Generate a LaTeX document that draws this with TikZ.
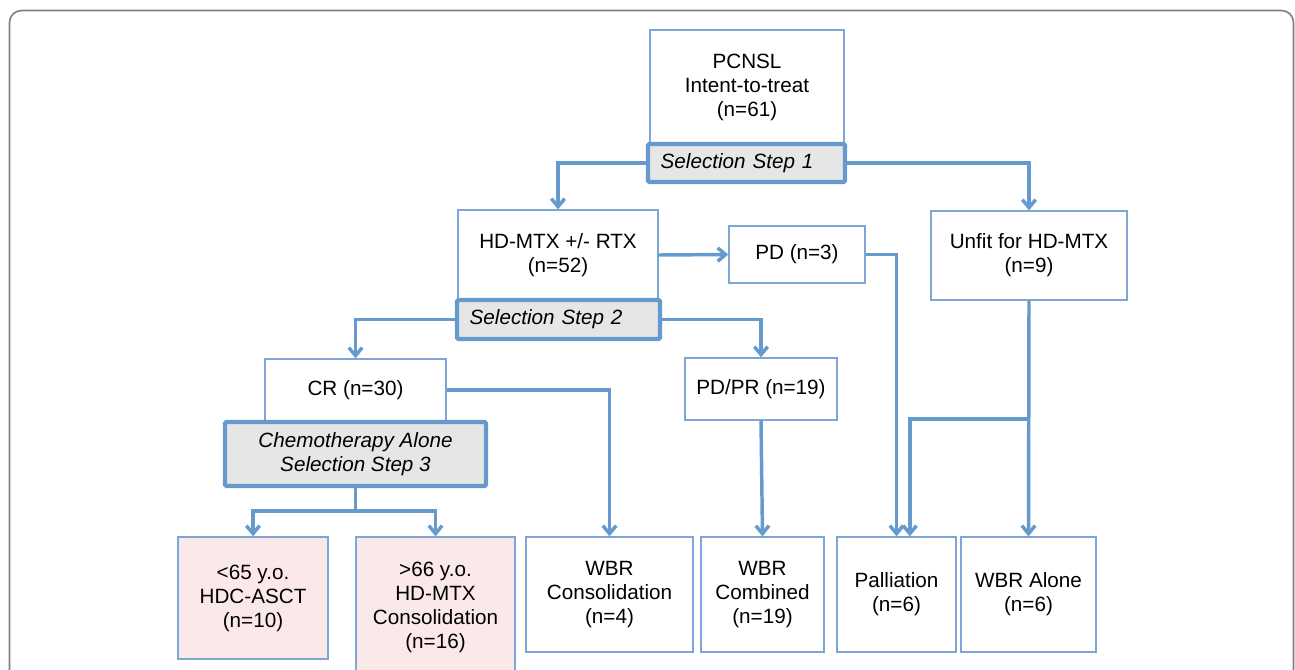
\documentclass[tikz,border=0pt]{standalone}
\usepackage{fontspec}
\setmainfont{Liberation Sans}
\usetikzlibrary{arrows.meta}
\definecolor{flowblue}{RGB}{102,153,204}
\definecolor{boxline}{RGB}{125,166,214}
\definecolor{stepgray}{RGB}{230,230,230}
\definecolor{agepink}{RGB}{251,233,233}
\definecolor{framegray}{RGB}{128,128,128}

\begin{document}
\begin{tikzpicture}[x=0.75pt,y=0.75pt,yscale=-1,xscale=1,
  box/.style={draw=boxline,line width=1pt,fill=white,align=center,inner sep=0pt,font=\fontsize{15.5}{18}\selectfont},
  selbox/.style={box,draw=flowblue,line width=3.2pt,fill=stepgray,rounded corners=1pt,font=\fontsize{15.5}{18}\selectfont\itshape},
  agebox/.style={box,fill=agepink},
  conn/.style={draw=flowblue,line width=2.6pt,-{Straight Barb[length=6pt,width=10pt]}},
  link/.style={draw=flowblue,line width=2.6pt},
]
\useasboundingbox (0,0) rectangle (1295,669);
\clip (0,0) rectangle (1295,669);

%Frame
\draw [framegray,line width=1.2pt,rounded corners=9pt] (9.5,690) -- (9.5,10.5) -- (1293.5,10.5) -- (1293.5,690) ;

%Top level
\node [box,minimum width=145.5pt,minimum height=85.5pt] (itt) at (747,87) {PCNSL\\Intent-to-treat\\(n=61)};
\node [selbox,minimum width=147.75pt,minimum height=28.5pt,text width=128.75pt,align=left,inner xsep=9.5pt] (sel1) at (746.5,163) {Selection Step 1};

%Second level
\node [box,minimum width=150pt,minimum height=67.5pt] (hd) at (558,255) {HD-MTX +/- RTX\\(n=52)};
\node [selbox,minimum width=152.25pt,minimum height=29.25pt,text width=133.25pt,align=left,inner xsep=9.5pt] (sel2) at (558.5,319.5) {Selection Step 2};
\node [box,minimum width=102pt,minimum height=42.75pt] (pd) at (797,254.5) {PD (n=3)};
\node [box,minimum width=147pt,minimum height=66.75pt] (unfit) at (1029,255.5) {Unfit for HD-MTX\\(n=9)};

%Third level
\node [box,minimum width=135.75pt,minimum height=46.5pt] (cr) at (355.5,390) {CR (n=30)};
\node [selbox,minimum width=195.75pt,minimum height=48pt] (sel3) at (355.5,454) {Chemotherapy Alone\\Selection Step 3};
\node [box,minimum width=114pt,minimum height=46.5pt] (pdpr) at (761,389) {PD/PR (n=19)};

%Outcomes
\node [agebox,minimum width=112.5pt,minimum height=91.5pt] (young) at (253,598) {<65 y.o.\\HDC-ASCT\\(n=10)};
\node [agebox,minimum width=119.25pt,minimum height=105.75pt] (old) at (435.5,607.5) {>66 y.o.\\HD-MTX\\Consolidation\\(n=16)};
\node [box,minimum width=125.25pt,minimum height=86.25pt] (wbrcon) at (609.5,594.5) {WBR\\Consolidation\\(n=4)};
\node [box,minimum width=92.25pt,minimum height=86.25pt] (wbrcomb) at (762.5,594.5) {WBR\\Combined\\(n=19)};
\node [box,minimum width=89.25pt,minimum height=86.25pt] (pall) at (896.5,594.5) {Palliation\\(n=6)};
\node [box,minimum width=101.25pt,minimum height=86.25pt] (wbralone) at (1028.5,594.5) {WBR Alone\\(n=6)};

\coordinate (fork) at (355.5,511);
\coordinate (split) at (1029,419);

%Connectors
\draw [conn] (sel1.west) -| (hd.north);
\draw [conn] (sel1.east) -| (unfit.north);
\draw [conn] (hd.east) -- (pd.west);
\draw [conn] (pd.east) -| (pall.north);
\draw [conn] (sel2.west) -| (cr.north);
\draw [conn] (sel2.east) -| (pdpr.north);
\draw [conn] (cr.east) -| (wbrcon.north);
\draw [conn] (pdpr.south) -- (wbrcomb.north);
\draw [conn] (unfit.south) -- (wbralone.north);
\draw [conn] (split) -| ([xshift=10pt]pall.north);
\draw [link] (sel3.south) -- (fork);
\draw [conn] (fork) -| (young.north);
\draw [conn] (fork) -| (old.north);

\end{tikzpicture}
\end{document}
